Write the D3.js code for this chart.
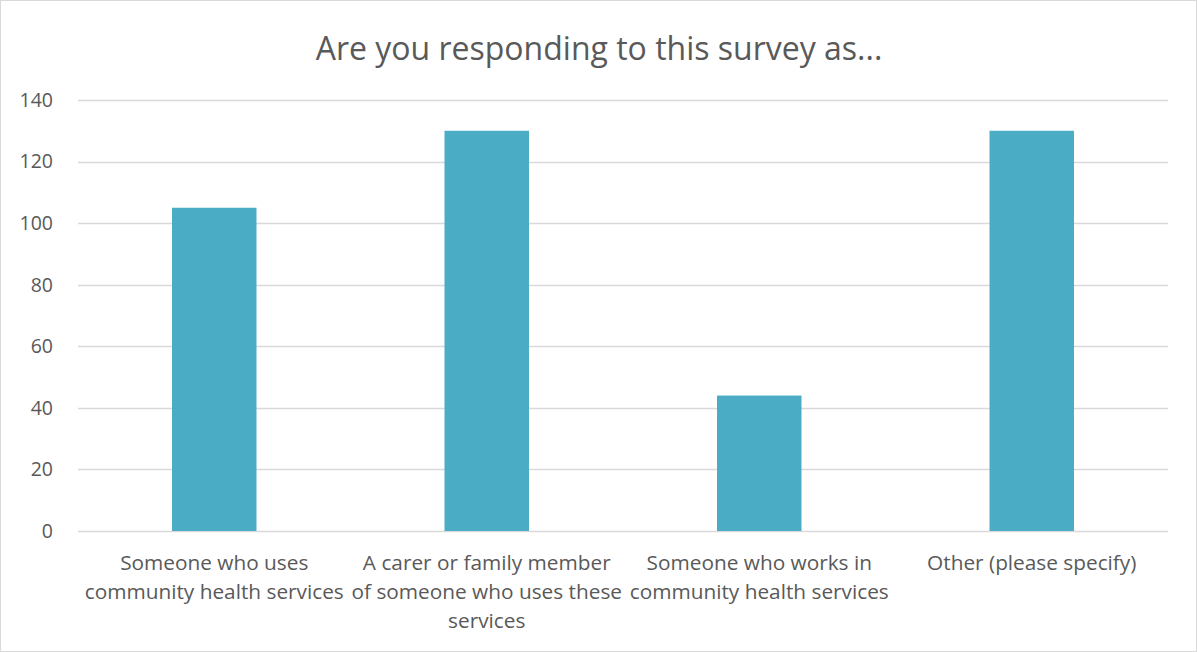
<!DOCTYPE html>
<html><head><meta charset="utf-8">
<script src="https://cdn.jsdelivr.net/npm/d3@7"></script>
<style>body{margin:0;background:#fff;} svg{display:block;font-family:"Open Sans",Lato,sans-serif;}</style>
</head><body>
<svg id="c" width="1197" height="652"></svg>
<script>
const title = "Are you responding to this survey as...";
const categories = ["Someone who uses community health services","A carer or family member of someone who uses these services","Someone who works in community health services","Other (please specify)"];
const categoryLines = [["Someone who uses","community health services"],["A carer or family member","of someone who uses these","services"],["Someone who works in","community health services"],["Other (please specify)"]];
const values = [105, 130, 44, 130];
const yTicks = [0,20,40,60,80,100,120,140];

const svg = d3.select("#c");
const W=1197,H=652;
svg.append("rect").attr("x",0.5).attr("y",0.5).attr("width",W-1).attr("height",H-1).attr("fill","#fff").attr("stroke","#d9d9d9");
const m={l:78,r:1168,t:100,b:531};
const x=d3.scaleBand().domain(categories).range([m.l,m.r]).paddingInner(0.69).paddingOuter(0.345);
const y=d3.scaleLinear().domain([0,140]).range([m.b,m.t]);

svg.append("text").attr("x",599).attr("y",60).attr("text-anchor","middle").attr("fill","#595959").attr("font-size",32).text(title);

const g=svg.append("g");
g.selectAll("line.grid").data(yTicks).join("line").attr("class","grid")
 .attr("x1",m.l).attr("x2",m.r).attr("y1",d=>Math.round(y(d))+0.5).attr("y2",d=>Math.round(y(d))+0.5)
 .attr("stroke","#d9d9d9").attr("stroke-width",1.3);
g.selectAll("text.yt").data(yTicks).join("text").attr("class","yt")
 .attr("x",53).attr("y",d=>y(d)).attr("dy","0.35em").attr("text-anchor","end")
 .attr("fill","#595959").attr("font-size",19.5).text(d=>d);

g.selectAll("rect.bar").data(values).join("rect").attr("class","bar")
 .attr("x",(d,i)=>x(categories[i])).attr("width",x.bandwidth())
 .attr("y",d=>y(d)).attr("height",d=>y(0)-y(d)).attr("fill","#4bacc6");

const lab=g.selectAll("text.xl").data(categories).join("text").attr("class","xl")
 .attr("text-anchor","middle").attr("fill","#595959").attr("font-size",20.8);
lab.each(function(d,i){
  const t=d3.select(this);
  categoryLines[i].forEach((ln,j)=>{
    t.append("tspan").attr("x",x(d)+x.bandwidth()/2).attr("y",570+j*29).text(ln);
  });
});
</script>
</body></html>
